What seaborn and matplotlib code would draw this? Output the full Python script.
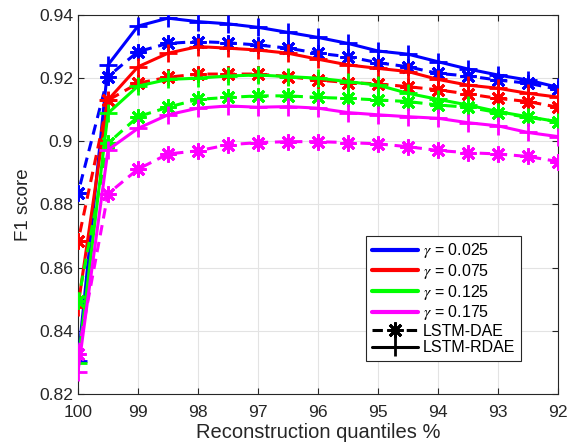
import numpy as np
import pandas as pd
import matplotlib
matplotlib.use("Agg")
import matplotlib.pyplot as plt
import seaborn as sns
from matplotlib.lines import Line2D

# ---- data ----
quantiles = [100, 99.5, 99, 98.5, 98, 97.5, 97, 96.5, 96, 95.5, 95, 94.5, 94, 93.5, 93, 92.5, 92]
gammas = ["0.025", "0.075", "0.125", "0.175"]

dae_0025 = [0.8836, 0.9205, 0.9284, 0.9310, 0.9316, 0.9312, 0.9305, 0.9295, 0.9279, 0.9268,
            0.9249, 0.9236, 0.9215, 0.9207, 0.9194, 0.9184, 0.9165]
rdae_0025 = [0.8303, 0.9242, 0.9365, 0.9390, 0.9379, 0.9372, 0.9361, 0.9345, 0.9329, 0.9310,
             0.9286, 0.9276, 0.9252, 0.9229, 0.9210, 0.9194, 0.9171]
dae_0075 = [0.8683, 0.9130, 0.9184, 0.9203, 0.9213, 0.9213, 0.9213, 0.9205, 0.9194, 0.9186,
            0.9182, 0.9173, 0.9163, 0.9150, 0.9136, 0.9126, 0.9108]
rdae_0075 = [0.8477, 0.9131, 0.9236, 0.9279, 0.9300, 0.9295, 0.9289, 0.9279, 0.9260, 0.9242,
             0.9231, 0.9221, 0.9196, 0.9178, 0.9168, 0.9152, 0.9140]
dae_0125 = [0.8493, 0.8994, 0.9078, 0.9108, 0.9133, 0.9139, 0.9144, 0.9144, 0.9139, 0.9136,
            0.9131, 0.9126, 0.9115, 0.9108, 0.9091, 0.9076, 0.9062]
rdae_0125 = [0.8298, 0.9089, 0.9175, 0.9196, 0.9200, 0.9207, 0.9210, 0.9205, 0.9200, 0.9189,
             0.9178, 0.9152, 0.9133, 0.9115, 0.9094, 0.9078, 0.9062]
dae_0175 = [0.8327, 0.8834, 0.8912, 0.8960, 0.8970, 0.8989, 0.8996, 0.8999, 0.8999, 0.8996,
            0.8992, 0.8983, 0.8971, 0.8964, 0.8960, 0.8952, 0.8936]
rdae_0175 = [0.8271, 0.8973, 0.9041, 0.9084, 0.9105, 0.9112, 0.9108, 0.9110, 0.9105, 0.9091,
             0.9084, 0.9078, 0.9073, 0.9059, 0.9049, 0.9028, 0.9015]

x_ticks = [100, 99, 98, 97, 96, 95, 94, 93, 92]
y_ticks = [0.82, 0.84, 0.86, 0.88, 0.90, 0.92, 0.94]
y_tick_labels = ["0.82", "0.84", "0.86", "0.88", "0.9", "0.92", "0.94"]

colors = ["#0000ff", "#ff0000", "#00ff00", "#ff00ff"]
dae_series = [dae_0025, dae_0075, dae_0125, dae_0175]
rdae_series = [rdae_0025, rdae_0075, rdae_0125, rdae_0175]

# ---- style ----
sns.set_style("white")
plt.rcParams["font.family"] = ["Liberation Sans", "DejaVu Sans"]
plt.rcParams["mathtext.fontset"] = "stix"
text_col = "#262626"

fig = plt.figure(figsize=(5.71, 4.48), dpi=100)
ax = fig.add_axes([78 / 571, 1 - 394 / 448, 480 / 571, 379 / 448])

asterisk = (8, 2, 0)
lw = 2.2
dash = (0, (3.4, 2.2))
for col, d, r in zip(colors, dae_series, rdae_series):
    df_d = pd.DataFrame({"q": quantiles, "f1": d})
    df_r = pd.DataFrame({"q": quantiles, "f1": r})
    sns.lineplot(data=df_d, x="q", y="f1", ax=ax, color=col, lw=lw, linestyle=dash,
                 marker=asterisk, markersize=11.5, markeredgewidth=2.0, markeredgecolor=col,
                 legend=False, zorder=3)
    sns.lineplot(data=df_r, x="q", y="f1", ax=ax, color=col, lw=lw, linestyle="-",
                 marker="+", markersize=13, markeredgewidth=2.0, markeredgecolor=col,
                 legend=False, zorder=3)

ax.set_xlim(100, 92)
ax.set_ylim(0.82, 0.94)
ax.set_xticks(x_ticks)
ax.set_xticklabels([str(t) for t in x_ticks])
ax.set_yticks(y_ticks)
ax.set_yticklabels(y_tick_labels)
ax.grid(True, color="#e3e3e3", lw=0.8)
ax.set_axisbelow(True)
for s in ax.spines.values():
    s.set_color(text_col)
    s.set_linewidth(0.8)
ax.tick_params(direction="in", length=4, width=0.8, colors=text_col, labelsize=12.6,
               top=True, right=True, bottom=True, left=True)
ax.tick_params(axis="x", pad=8)
ax.tick_params(axis="y", pad=3.5)
ax.set_xlabel("Reconstruction quantiles %", fontsize=14.5, color=text_col, labelpad=2)
ax.set_ylabel("F1 score", fontsize=13.5, color=text_col, labelpad=5)

handles = [Line2D([0], [0], color=c, lw=3) for c in colors]
labels = [r"$\gamma$ = " + g for g in gammas]
handles.append(Line2D([0], [0], color="black", lw=lw, linestyle=dash,
                      marker=asterisk, markersize=11.5, markeredgewidth=2.0))
labels.append("LSTM-DAE")
handles.append(Line2D([0], [0], color="black", lw=lw, linestyle="-",
                      marker="+", markersize=13, markeredgewidth=2.0))
labels.append("LSTM-RDAE")
leg = ax.legend(handles, labels, loc="lower left", bbox_to_anchor=(0.6, 0.087),
                borderaxespad=0, fontsize=11.5, frameon=True, fancybox=False,
                handlelength=2.9, handletextpad=0.3, labelspacing=0.1,
                borderpad=0.35, framealpha=1)
leg.get_frame().set_edgecolor(text_col)
leg.get_frame().set_linewidth(0.8)
for t in leg.get_texts():
    t.set_color("black")

fig.savefig("out.png", dpi=100)
